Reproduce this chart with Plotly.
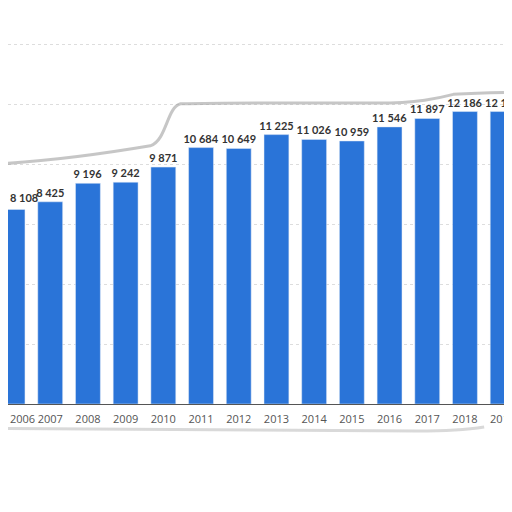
import plotly.graph_objects as go

# years and values
years = [2006, 2007, 2008, 2009, 2010, 2011, 2012, 2013, 2014, 2015, 2016, 2017, 2018, 2019]
values = [8108, 8425, 9196, 9242, 9871, 10684, 10649, 11225, 11026, 10959, 11546, 11897, 12186, 12186]
labels = [f"{v:,}".replace(",", " ") for v in values]

label_font = dict(family="Lato", size=11, color="#333333", weight="bold")
tick_font = dict(family="Open Sans", size=11, color="#555555")

# first bar sits on the cut left edge, so its labels are placed by hand
textpos = ["none"] + ["outside"] * (len(years) - 1)

bars = go.Bar(
    x=years, y=values,
    marker=dict(color="#2a74d8"),
    text=labels, textposition=textpos, cliponaxis=False, constraintext="none",
    textfont=label_font,
)

fig = go.Figure(data=[bars])

# torn paper edge (rough shadow line), paper coords
edge = ("M -0.02,0.606 C 0.10,0.615 0.20,0.635 0.278,0.652 "
        "C 0.31,0.665 0.31,0.75 0.337,0.758 C 0.45,0.762 0.58,0.76 0.72,0.76 "
        "C 0.80,0.76 0.84,0.772 0.87,0.782 C 0.93,0.787 0.97,0.787 1.01,0.787")
bottom = "M -0.02,-0.062 C 0.2,-0.066 0.5,-0.068 0.8,-0.068 C 0.86,-0.068 0.9,-0.064 0.93,-0.058"

fig.update_layout(
    width=512, height=512,
    margin=dict(l=0, r=0, t=0, b=116, autoexpand=False),
    paper_bgcolor="white", plot_bgcolor="white",
    showlegend=False,
    bargap=0.34,
    xaxis=dict(
        range=[2005.88, 2019.46], tickmode="array", tickvals=years[1:],
        ticks="", showgrid=False, showline=True, linecolor="#555555", linewidth=1,
        ticklabeloverflow="allow", automargin=False, ticklabelstandoff=5,
        tickfont=tick_font,
    ),
    yaxis=dict(
        range=[0, 16500], dtick=2500, showticklabels=False, zeroline=False,
        automargin=False, gridcolor="#dddddd", griddash="dot",
    ),
    shapes=[
        dict(type="path", path=edge, xref="paper", yref="paper",
             line=dict(color="rgba(160,160,160,0.6)", width=3)),
        dict(type="path", path=bottom, xref="paper", yref="paper",
             line=dict(color="rgba(170,170,170,0.45)", width=3)),
    ],
    annotations=[
        dict(x=0, xref="paper", y=values[0], yref="y", text=labels[0],
             xanchor="left", yanchor="bottom", yshift=3, showarrow=False,
             font=label_font),
        dict(x=0, xref="paper", y=0, yref="paper", text=str(years[0]),
             xanchor="left", yanchor="middle", yshift=-14, showarrow=False,
             font=tick_font),
    ],
)

fig.write_html("out.html")
